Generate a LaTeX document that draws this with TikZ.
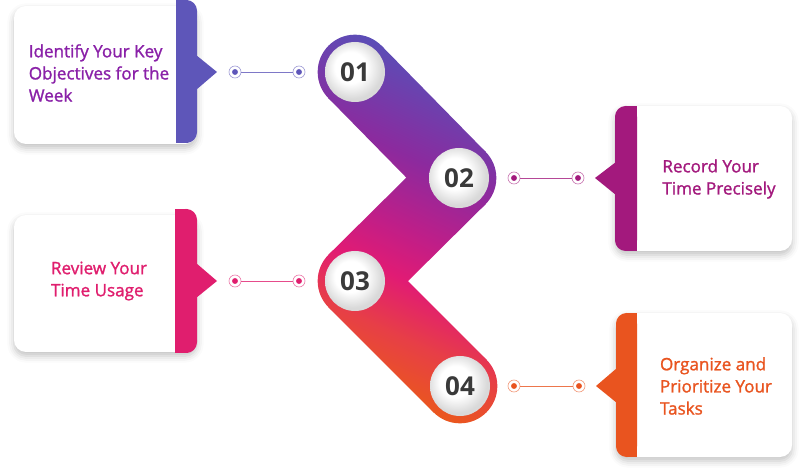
\documentclass[tikz,border=0pt]{standalone}
\usepackage{fontspec}
\setmainfont{Open Sans}
\newfontfamily\cardfont{Open Sans}[FakeBold=1.3]
\usetikzlibrary{calc,shadows.blur}
\definecolor{slate}{RGB}{94,86,185}
\definecolor{plum}{RGB}{163,25,125}
\definecolor{rose}{RGB}{224,30,110}
\definecolor{ember}{RGB}{233,84,31}
\definecolor{grape}{RGB}{138,33,168}
\definecolor{digit}{RGB}{58,58,58}
\definecolor{bandblue}{RGB}{90,78,183}
\definecolor{bandpurple}{RGB}{140,42,158}
\definecolor{bandmag}{RGB}{191,30,136}
\definecolor{bandpink}{RGB}{225,27,116}
\definecolor{bandred}{RGB}{231,63,70}
\definecolor{bandorange}{RGB}{234,86,31}
\pgfdeclareverticalshading{bandfill}{100bp}{color(0bp)=(bandorange); color(27bp)=(bandorange);
  color(35bp)=(bandred); color(43bp)=(bandpink); color(50bp)=(bandmag);
  color(60bp)=(bandpurple); color(74bp)=(bandblue); color(100bp)=(bandblue)}
\pgfdeclareradialshading{ballfill}{\pgfpoint{-5bp}{5bp}}{color(0bp)=(white); color(13bp)=(white);
  color(25bp)=(black!15); color(50bp)=(black!15)}

\begin{document}
\begin{tikzpicture}[x=0.75pt,y=-0.75pt,
  card/.style={fill=white,rounded corners=9pt,
    blur shadow={shadow xshift=0pt,shadow yshift=-3pt,shadow blur radius=5pt,shadow opacity=24}},
  cardtext/.style={align=left,text=#1,font=\cardfont\fontsize{12.8}{16.6}\selectfont},
  numball/.style={circle,minimum size=45pt,inner sep=0pt,shade,shading=ballfill,
    font=\bfseries\fontsize{19.5}{19.5}\selectfont,text=digit},
  ring/.style={circle,draw=#1!60,line width=0.5pt,fill=white,minimum size=9pt,inner sep=0pt,
    path picture={\fill[#1] (path picture bounding box.center) circle (2.2pt);}},
  link/.style={draw=#1!80,line width=0.7pt}]
\useasboundingbox (0,0) rectangle (800,470);
\coordinate (p1) at (355,72);
\coordinate (p2) at (459,178);
\coordinate (p3) at (355,281);
\coordinate (p4) at (460,386);
% band
\foreach \a/\b in {p1/p2,p2/p3,p3/p4}{
  \begin{scope}
    \clip ($(\a)!28pt!90:(\b)$) -- ($(\b)!28pt!-90:(\a)$) -- ($(\b)!28pt!90:(\a)$) -- ($(\a)!28pt!-90:(\b)$) -- cycle;
    \shade[shading=bandfill,shading angle=-25] (310,30) rectangle (505,430);
  \end{scope}}
\foreach \a in {p1,p2,p3,p4}{
  \begin{scope}
    \clip (\a) circle (28pt);
    \shade[shading=bandfill,shading angle=-25] (310,30) rectangle (505,430);
  \end{scope}}
\node[numball] (n1) at (p1) {01};
\node[numball] (n2) at (p2) {02};
\node[numball] (n3) at (p3) {03};
\node[numball] (n4) at (p4) {04};
% card one
\fill[card] (14,6) rectangle (197,144);
\fill[slate] (176,0) rectangle (188,143);
\fill[slate,rounded corners=8pt] (176,0) rectangle (197,143);
\fill[slate] (196,55) -- (217,72) -- (196,90) -- cycle;
\node[cardtext=grape] (t1) at (99,73) {Identify Your Key\\Objectives for the\\Week};
\node[ring=slate] (a1) at (235,72) {};
\node[ring=slate] (b1) at (299,72) {};
\draw[link=slate] (a1) -- (b1);
% card two
\fill[card] (615,106) rectangle (792,251);
\fill[plum] (626,106) rectangle (637,251);
\fill[plum,rounded corners=8pt] (615,106) rectangle (637,251);
\fill[plum] (616,162) -- (595,178) -- (616,195) -- cycle;
\node[cardtext=plum] (t2) at (719,179) {Record Your\\Time Precisely};
\node[ring=plum] (a2) at (514,178) {};
\node[ring=plum] (b2) at (578,178) {};
\draw[link=plum] (a2) -- (b2);
% card three
\fill[card] (14,215) rectangle (197,352);
\fill[rose] (175,209) rectangle (188,353);
\fill[rose,rounded corners=8pt] (175,209) rectangle (197,353);
\fill[rose] (196,263) -- (217,281) -- (196,298) -- cycle;
\node[cardtext=rose] (t3) at (99,281) {Review Your\\Time Usage};
\node[ring=rose] (a3) at (235,281) {};
\node[ring=rose] (b3) at (299,281) {};
\draw[link=rose] (a3) -- (b3);
% card four
\fill[card] (616,313) rectangle (792,457);
\fill[ember] (627,313) rectangle (637,457);
\fill[ember,rounded corners=8pt] (616,313) rectangle (637,457);
\fill[ember] (617,368) -- (596,386) -- (617,403) -- cycle;
\node[cardtext=ember] (t4) at (716,386) {Organize and\\Prioritize Your\\Tasks};
\node[ring=ember] (a4) at (514,386) {};
\node[ring=ember] (b4) at (579,386) {};
\draw[link=ember] (a4) -- (b4);
\end{tikzpicture}
\end{document}
